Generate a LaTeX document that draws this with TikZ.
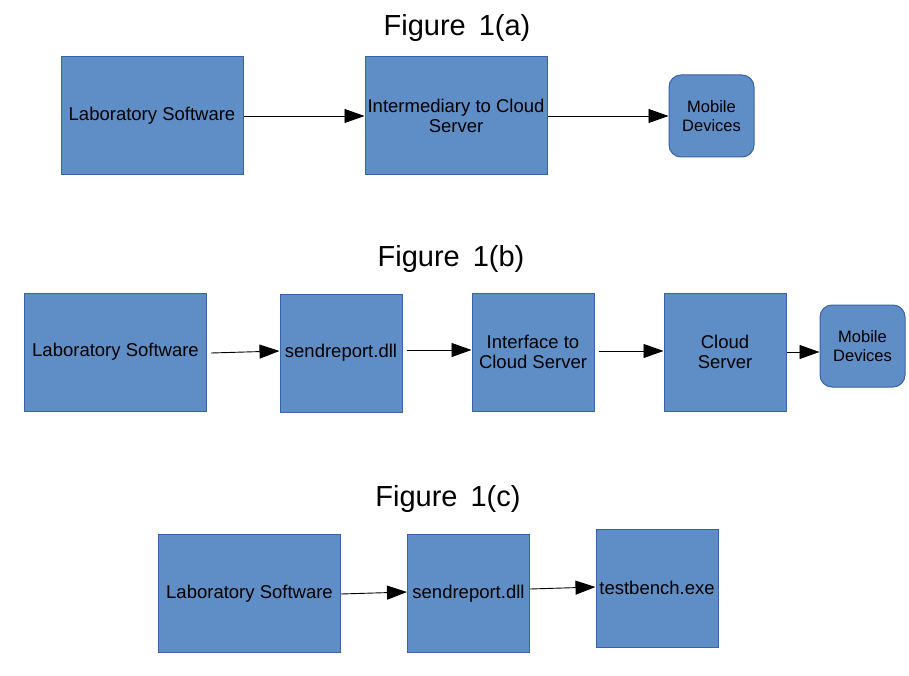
\documentclass[tikz,border=0pt]{standalone}
\usepackage{fontspec}
\setmainfont{Liberation Sans}
\usetikzlibrary{arrows.meta}
\definecolor{boxfill}{HTML}{5F8DC6}
\definecolor{boxline}{HTML}{3A62A6}
\begin{document}
\begin{tikzpicture}[x=1pt,y=-1pt,
  blk/.style={draw=boxline,fill=boxfill,line width=1pt,inner sep=0pt,align=center,
    font=\fontsize{18.5}{20}\selectfont},
  mob/.style={blk,rounded corners=12pt,minimum width=85pt,minimum height=82pt,
    font=\fontsize{16.5}{19.5}\selectfont},
  big/.style={minimum width=182pt,minimum height=118pt},
  small/.style={minimum width=122pt,minimum height=118pt},
  ttl/.style={font=\fontsize{29}{33}\selectfont},
  conn/.style={-{Triangle[length=20pt,width=14pt]},line width=0.9pt}]
\useasboundingbox (0,0) rectangle (909,676);
% Figure 1(a)
\node[ttl] (ta) at (457,28) {Figure\hspace{0.45em}1(a)};
\node[blk,big] (a1) at (152,116) {Laboratory Software};
\node[blk,big] (a2) at (456,116) {Intermediary to Cloud\\Server};
\node[mob] (a3) at (711.5,116) {Mobile\\Devices};
\draw[conn] (a1.east) -- (a2.west);
\draw[conn] (a2.east) -- (a3.west);
% Figure 1(b)
\node[ttl] (tb) at (451,259) {Figure\hspace{0.45em}1(b)};
\node[blk,big] (b1) at (115.5,352) {Laboratory Software};
\node[blk,small] (b2) at (341,353) {sendreport.dll};
\node[blk,small] (b3) at (533,352) {Interface to\\Cloud Server};
\node[blk,small] (b4) at (725,352) {Cloud\\Server};
\node[mob] (b5) at (862.5,346) {Mobile\\Devices};
\draw[conn] ([shift={(4,1)}]b1.east) -- ([shift={(0,-2)}]b2.west);
\draw[conn] ([shift={(4,-3)}]b2.east) -- ([shift={(0,-2)}]b3.west);
\draw[conn] ([shift={(4,-1)}]b3.east) -- ([shift={(0,-1)}]b4.west);
\draw[conn] (b4.east) -- ([shift={(0,6)}]b5.west);
% Figure 1(c)
\node[ttl] (tc) at (448,499) {Figure\hspace{0.45em}1(c)};
\node[blk,big] (c1) at (249.5,593.5) {Laboratory Software};
\node[blk,small] (c2) at (468.5,593.5) {sendreport.dll};
\node[blk,small] (c3) at (657,588) {testbench.exe};
\draw[conn] ([shift={(0,0.5)}]c1.east) -- ([shift={(0,-1.5)}]c2.west);
\draw[conn] ([shift={(0,-4.5)}]c2.east) -- ([shift={(0,-1)}]c3.west);
\end{tikzpicture}
\end{document}
